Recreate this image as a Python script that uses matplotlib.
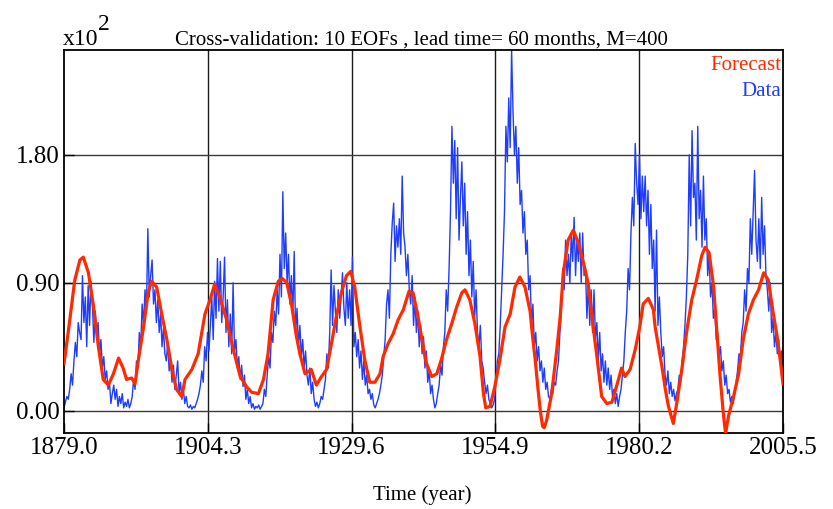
import numpy as np
import matplotlib
matplotlib.use("Agg")
import matplotlib.pyplot as plt

plt.rcParams['font.family'] = ['Liberation Serif', 'DejaVu Serif']

# Observed monthly index (in units of 10^2), sampled quarterly from 1879.0
data_start = 1879.0
data_step = 0.25
data_values = [
    0.02, 0.06, 0.10, 0.08,  0.15, 0.26, 0.18, 0.35,  0.48, 0.38, 0.62, 0.55,
    0.50, 0.95, 0.62, 0.80,  0.45, 0.88, 0.60, 0.91,  0.75, 0.48, 0.70, 0.55,
    0.62, 0.40, 0.50, 0.30,  0.38, 0.22, 0.28, 0.15,  0.20, 0.05, 0.12, 0.18,
    0.08, 0.15, 0.03, 0.10,  0.05, 0.12, 0.02, 0.06,  0.03, 0.08, 0.02, 0.05,
    0.10, 0.22, 0.15, 0.35,  0.30, 0.55, 0.45, 0.75,  0.60, 0.85, 0.70, 1.28,
    0.80, 0.95, 1.06, 0.75,  0.85, 0.62, 0.78, 0.55,  0.68, 0.45, 0.58, 0.40,
    0.35, 0.48, 0.28, 0.35,  0.20, 0.32, 0.15, 0.25,  0.35, 0.12, 0.20, 0.08,
    0.15, 0.05, 0.10, 0.03,  0.02, 0.04, 0.01, 0.03,  0.02, 0.05, 0.08, 0.12,
    0.18, 0.28, 0.20, 0.45,  0.35, 0.55, 0.42, 0.60,  0.80, 0.50, 0.91, 0.65,
    1.07, 0.70, 1.05, 0.62,  0.80, 1.08, 0.55, 0.78,  0.45, 0.68, 0.40, 0.90,
    0.42, 0.50, 0.30, 0.38,  0.22, 0.32, 0.17, 0.25,  0.08, 0.15, 0.05, 0.10,
    0.02, 0.05, 0.01, 0.03,  0.02, 0.04, 0.01, 0.03,  0.05, 0.15, 0.10, 0.25,
    0.38, 0.30, 0.55, 0.48,  0.70, 0.60, 0.85, 0.68,  1.10, 0.80, 1.54, 1.00,
    1.25, 0.90, 1.10, 0.75,  0.95, 0.65, 1.12, 0.55,  0.72, 0.45, 0.60, 0.38,
    0.50, 0.30, 0.42, 0.25,  0.18, 0.30, 0.12, 0.20,  0.08, 0.03, 0.06, 0.02,
    0.05, 0.10, 0.08, 0.15,  0.22, 0.40, 0.30, 0.55,  0.99, 0.60, 0.88, 0.70,
    0.55, 0.85, 0.65, 0.80,  0.97, 0.72, 0.60, 0.90,  0.65, 0.85, 0.60, 1.08,
    0.45, 0.55, 0.38, 0.50,  0.30, 0.42, 0.22, 0.35,  0.18, 0.25, 0.12, 0.15,
    0.08, 0.12, 0.04, 0.02,  0.05, 0.08, 0.12, 0.18,  0.25, 0.38, 0.50, 0.75,
    0.85, 0.65, 1.10, 1.32,  1.46, 1.05, 1.30, 1.15,  1.35, 1.10, 1.65, 1.25,
    1.15, 0.95, 1.10, 0.85,  0.75, 0.95, 0.60, 0.80,  0.55, 0.70, 0.45, 0.60,
    0.40, 0.52, 0.30, 0.42,  0.20, 0.28, 0.12, 0.18,  0.08, 0.02, 0.05, 0.12,
    0.18, 0.32, 0.25, 0.45,  0.55, 0.85, 0.70, 1.00,  1.40, 2.00, 1.60, 1.90,
    1.35, 1.85, 1.20, 1.50,  1.75, 1.30, 1.60, 1.10,  1.40, 0.95, 1.20, 0.80,
    1.05, 0.65, 0.85, 0.55,  0.45, 0.60, 0.35, 0.30,  0.20, 0.12, 0.18, 0.08,
    0.05, 0.02, 0.04, 0.08,  0.20, 0.35, 0.40, 0.60,  0.85, 1.10, 1.40, 2.00,
    1.75, 2.20, 1.85, 2.54,  2.10, 1.80, 2.00, 1.60,  1.85, 1.45, 1.55, 1.25,
    1.40, 1.10, 1.20, 0.85,  0.95, 0.60, 0.75, 0.45,  0.55, 0.35, 0.45, 0.28,
    0.35, 0.20, 0.30, 0.15,  0.20, 0.10, 0.08, 0.15,  0.12, 0.20, 0.18, 0.28,
    0.35, 0.55, 0.70, 1.00,  0.85, 1.20, 0.95, 1.10,  0.90, 1.25, 1.05, 1.36,
    0.95, 1.20, 1.05, 1.25,  0.90, 1.25, 0.95, 1.00,  0.65, 0.90, 0.60, 0.85,
    0.55, 0.85, 0.50, 0.62,  0.35, 0.55, 0.28, 0.40,  0.20, 0.35, 0.18, 0.30,
    0.15, 0.25, 0.10, 0.15,  0.05, 0.12, 0.03, 0.10,  0.15, 0.25, 0.35, 0.55,
    0.70, 1.00, 0.85, 1.25,  1.50, 1.30, 1.88, 1.60,  1.45, 1.80, 1.35, 1.65,
    1.40, 1.65, 1.30, 1.55,  1.10, 1.45, 1.00, 1.20,  0.70, 1.27, 0.60, 0.80,
    0.55, 0.38, 0.45, 0.25,  0.18, 0.28, 0.12, 0.20,  0.10, 0.15, 0.07, 0.12,
    0.15, 0.25, 0.20, 0.35,  0.45, 0.60, 0.80, 1.10,  1.80, 1.30, 1.97, 1.50,
    1.60, 1.20, 2.00, 1.35,  1.55, 1.15, 1.65, 1.20,  1.35, 0.95, 1.10, 0.80,
    0.90, 0.65, 0.72, 0.50,  0.55, 0.38, 0.45, 0.28,  0.35, 0.18, 0.25, 0.12,
    0.15, 0.06, 0.10, 0.05,  0.12, 0.20, 0.28, 0.40,  0.38, 0.55, 0.62, 0.85,
    0.70, 1.00, 0.90, 1.35,  1.10, 1.40, 1.69, 1.20,  1.05, 1.35, 1.00, 1.50,
    1.10, 1.30, 0.95, 0.85,  0.70, 0.90, 0.55, 0.65,  0.45, 0.55, 0.40, 0.50,
    0.35, 0.42, 0.25,
]

# Cross-validated forecast (units of 10^2)
forecast_years = [
    1879.0, 1879.8, 1880.9, 1881.8, 1882.4, 1883.3, 1884.2, 1885.05, 1885.9,
    1886.8, 1887.7, 1888.6, 1889.4, 1890.0, 1890.9, 1891.5, 1892.1, 1893.0,
    1893.8, 1894.4, 1895.3, 1896.2, 1897.1, 1898.0, 1898.8, 1899.7, 1900.3,
    1901.5, 1902.6, 1903.8, 1904.7, 1905.5, 1906.4, 1907.6, 1908.8, 1910.0,
    1911.1, 1912.0, 1913.2, 1914.1, 1914.9, 1915.8, 1916.7, 1917.4, 1918.2,
    1919.1, 1919.9, 1920.5, 1921.4, 1922.5, 1923.4, 1924.3, 1925.2, 1926.05,
    1926.9, 1927.8, 1928.7, 1929.45, 1930.15, 1931.0, 1931.9, 1932.8, 1933.7,
    1934.6, 1935.15, 1936.0, 1936.9, 1937.8, 1938.7, 1939.7, 1940.4, 1941.2,
    1942.0, 1942.7, 1943.7, 1944.6, 1945.4, 1946.3, 1947.2, 1948.1, 1949.0,
    1949.55, 1950.4, 1951.3, 1952.2, 1952.8, 1953.2, 1953.95, 1954.8, 1955.7,
    1956.6, 1957.5, 1958.35, 1959.2, 1960.1, 1961.0, 1961.5, 1961.9, 1962.4,
    1962.8, 1963.2, 1963.5, 1963.9, 1964.8, 1965.7, 1966.3, 1966.85, 1967.7,
    1968.6, 1969.5, 1970.4, 1971.2, 1972.1, 1972.7, 1973.6, 1974.5, 1975.4,
    1976.2, 1977.1, 1977.7, 1978.6, 1979.5, 1980.3, 1980.9, 1981.8, 1982.7,
    1983.0, 1983.6, 1984.2, 1984.8, 1985.35, 1986.2, 1986.8, 1987.7, 1988.6,
    1989.45, 1990.3, 1991.2, 1991.8, 1992.5, 1993.3, 1993.85, 1994.4, 1995.0,
    1995.4, 1995.9, 1996.8, 1997.7, 1998.5, 1999.4, 2000.3, 2001.2, 2002.1,
    2002.9, 2003.8, 2004.4, 2005.0, 2005.5,
]
forecast_values = [
    0.33, 0.57, 0.92, 1.06, 1.08, 0.97, 0.73, 0.45, 0.22,
    0.18, 0.26, 0.37, 0.30, 0.22, 0.23, 0.19, 0.36, 0.59,
    0.83, 0.91, 0.87, 0.68, 0.50, 0.29, 0.15, 0.10, 0.22,
    0.29, 0.40, 0.68, 0.78, 0.89, 0.80, 0.64, 0.43, 0.24,
    0.17, 0.13, 0.12, 0.22, 0.40, 0.78, 0.91, 0.93, 0.90,
    0.73, 0.52, 0.40, 0.26, 0.29, 0.18, 0.24, 0.29, 0.47,
    0.66, 0.83, 0.95, 0.98, 0.87, 0.61, 0.36, 0.20, 0.20,
    0.26, 0.38, 0.47, 0.54, 0.64, 0.71, 0.84, 0.83, 0.68,
    0.50, 0.34, 0.24, 0.26, 0.36, 0.50, 0.61, 0.73, 0.83,
    0.85, 0.78, 0.61, 0.38, 0.12, 0.02, 0.03, 0.17, 0.36,
    0.59, 0.68, 0.87, 0.94, 0.87, 0.70, 0.50, 0.36, 0.15,
    0.00, -0.11, -0.12, -0.07, 0.12, 0.43, 0.66, 0.97, 1.20,
    1.27, 1.18, 1.04, 0.90, 0.59, 0.40, 0.10, 0.05, 0.06,
    0.17, 0.30, 0.24, 0.29, 0.43, 0.59, 0.75, 0.79, 0.71,
    0.59, 0.45, 0.31, 0.15, 0.03, -0.09, 0.05, 0.29, 0.57,
    0.78, 0.92, 1.09, 1.15, 1.11, 0.87, 0.57, 0.26, -0.02,
    -0.16, -0.04, 0.10, 0.26, 0.50, 0.68, 0.78, 0.85, 0.97,
    0.92, 0.68, 0.54, 0.36, 0.19,
]

x_ticks = [1879.0, 1904.3, 1929.6, 1954.9, 1980.2, 2005.5]
y_ticks = [0.0, 0.9, 1.8]

data_years = data_start + data_step * np.arange(len(data_values))

W, H = 833, 509
fig = plt.figure(figsize=(W / 100, H / 100), dpi=100)
ax = fig.add_axes([64 / W, (H - 433) / H, (783 - 64) / W, (433 - 50) / H])

red = '#ff2a00'
blue = '#1f3dff'

for xv in x_ticks[1:-1]:
    ax.axvline(xv, color='#1a1a1a', lw=1.0, zorder=1)
for yv in y_ticks:
    ax.axhline(yv, color='#3a3a3a', lw=1.0, zorder=1)

ax.plot(data_years, data_values, color=blue, lw=1.0, zorder=2)
ax.plot(forecast_years, forecast_values, color=red, lw=2.3, zorder=3,
        solid_joinstyle='round')

ax.set_xlim(1879.0, 2005.5)
ax.set_ylim(-0.157, 2.537)
ax.set_xticks(x_ticks)
ax.set_xticklabels([f"{v:.1f}" for v in x_ticks])
ax.set_yticks(y_ticks)
ax.set_yticklabels([f"{v:.2f}" for v in y_ticks])
ax.tick_params(direction='in', length=7, width=1, colors='black',
               labelsize=18, pad=3)
for s in ax.spines.values():
    s.set_linewidth(1.3)
    s.set_color('black')

# Exponent marker above the y axis
fig.text(63 / W, 1 - 45 / H, "x10", fontsize=17, va='baseline', ha='left')
fig.text(98 / W, 1 - 30 / H, "2", fontsize=17, va='baseline', ha='left')

fig.text(421 / W, 1 - 45 / H,
         "Cross-validation: 10 EOFs , lead time= 60 months, M=400",
         fontsize=15, va='baseline', ha='center')

fig.text(781 / W, 1 - 70 / H, "Forecast", color=red, fontsize=15,
         va='baseline', ha='right')
fig.text(781 / W, 1 - 96 / H, "Data", color=blue, fontsize=15,
         va='baseline', ha='right')

fig.text(422 / W, 1 - 500 / H, "Time (year)", fontsize=15,
         va='baseline', ha='center')

fig.savefig("out.png", dpi=100)
